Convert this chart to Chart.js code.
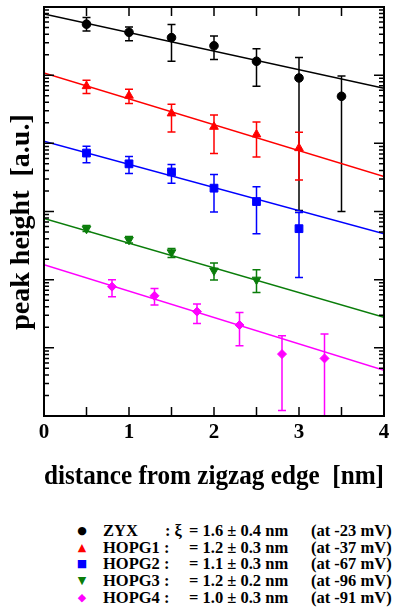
<!DOCTYPE html>
<html>
<head>
<meta charset="utf-8">
<script src="https://cdn.jsdelivr.net/npm/chart.js@4.4.0/dist/chart.umd.min.js"></script>
<style>
  html, body { margin: 0; padding: 0; background: #fff; }
  #wrap { position: relative; width: 394px; height: 609px; overflow: hidden; }
  #chart { position: absolute; left: 0; top: 0; }
  .leg { position: absolute; font: bold 16.5px "Liberation Serif", serif; color: #000; white-space: pre; line-height: 17px; }
  .mark { position: absolute; font: 11px "DejaVu Sans", sans-serif; line-height: 17px; width: 14px; text-align: center; }
</style>
</head>
<body>
<div id="wrap">
  <canvas id="chart" width="394" height="500"></canvas>
  <div id="legend"></div>
</div>
<script>
// ================= DATA =================
const zyxX  = [0.5, 1, 1.5, 2, 2.5, 3, 3.5];
const zyxY  = [5.6e5, 4.25e5, 3.55e5, 2.7e5, 1.6e5, 9.1e4, 4.9e4];
const zyxLo = [4.45e5, 3.2e5, 1.6e5, 1.7e5, 6.9e4, 1.03e3, 1.0e3];
const zyxHi = [7.0e5, 5.1e5, 5.55e5, 3.75e5, 2.45e5, 1.82e5, 9.7e4];

const hopg1X  = [0.5, 1, 1.5, 2, 2.5, 3];
const hopg1Y  = [6.9e4, 5.0e4, 2.75e4, 1.75e4, 1.35e4, 8.5e3];
const hopg1Lo = [5.4e4, 3.85e4, 1.47e4, 7.1e3, 6.3e3, 2.9e3];
const hopg1Hi = [8.4e4, 6.2e4, 3.75e4, 2.6e4, 2.05e4, 1.45e4];

const hopg2X  = [0.5, 1, 1.5, 2, 2.5, 3];
const hopg2Y  = [7.2e3, 5.0e3, 3.8e3, 2.2e3, 1.4e3, 560];
const hopg2Lo = [5.2e3, 3.6e3, 2.6e3, 980, 470, 108];
const hopg2Hi = [9.1e3, 6.4e3, 4.9e3, 3.5e3, 2.3e3, 970];

const hopg3X  = [0.5, 1, 1.5, 2, 2.5];
const hopg3Y  = [557, 384, 252, 136, 100];
const hopg3Lo = [508, 344, 211, 99, 65];
const hopg3Hi = [622, 429, 286, 176, 140];

const hopg4X  = [0.8, 1.3, 1.8, 2.3, 2.8, 3.3];
const hopg4Y  = [79, 58, 34, 21.6, 8.1, 7.0];
const hopg4Lo = [56, 42.5, 22.8, 10.7, 1.2, 0.5];
const hopg4Hi = [100, 74.5, 44, 33, 15, 15.9];

// fitted lines, value at x = 0 and x = 4
const fitX = [0, 4];
const zyxFit   = [7.9e5, 6.4e4];
const hopg1Fit = [1.08e5, 3.27e3];
const hopg2Fit = [1.07e4, 470];
const hopg3Fit = [790, 28];
const hopg4Fit = [166, 4.7];

// legend text
const legendNames = ['ZYX', 'HOPG1 :', 'HOPG2 :', 'HOPG3 :', 'HOPG4 :'];
const legendXi    = ['= 1.6 \u00b1 0.4 nm', '= 1.2 \u00b1 0.3 nm', '= 1.1 \u00b1 0.3 nm', '= 1.2 \u00b1 0.2 nm', '= 1.0 \u00b1 0.3 nm'];
const legendBias  = ['(at -23 mV)', '(at -37 mV)', '(at -67 mV)', '(at -96 mV)', '(at -91 mV)'];
const legendMarks = ['\u25cf', '\u25b2', '\u25a0', '\u25bc', '\u25c6'];

const colors = ['#000000', '#ff0000', '#0000ff', '#0a7d0a', '#ff00ff'];
const FONT = 'Liberation Serif';

// ================= HELPERS =================
const pts = (xs, ys) => xs.map((x, i) => ({ x: x, y: ys[i] }));

function series(xs, ys, lo, hi, color, style, radius, rotation) {
  return {
    type: 'scatter', data: pts(xs, ys), errLo: lo, errHi: hi,
    borderColor: color, backgroundColor: color, pointStyle: style,
    pointRadius: radius, pointBorderWidth: 1, pointRotation: rotation || 0,
    showLine: false, order: 1
  };
}

function fit(ys, color) {
  return {
    type: 'line', data: pts(fitX, ys), borderColor: color, borderWidth: 1.5,
    pointRadius: 0, fill: false, order: 2
  };
}

// ================= PLUGINS =================
const errorBars = {
  id: 'errorBars',
  beforeDatasetsDraw(chart) {
    const { ctx, chartArea, scales: { x, y } } = chart;
    ctx.save();
    ctx.beginPath();
    ctx.rect(chartArea.left, chartArea.top, chartArea.right - chartArea.left, chartArea.bottom - chartArea.top);
    ctx.clip();
    chart.data.datasets.forEach(ds => {
      if (!ds.errLo) return;
      ctx.strokeStyle = ds.borderColor;
      ctx.lineWidth = 1.5;
      ds.data.forEach((p, i) => {
        const px = x.getPixelForValue(p.x);
        const top = y.getPixelForValue(ds.errHi[i]);
        const bot = y.getPixelForValue(ds.errLo[i]);
        ctx.beginPath();
        ctx.moveTo(px, top); ctx.lineTo(px, bot);
        ctx.moveTo(px - 4, top); ctx.lineTo(px + 4, top);
        ctx.moveTo(px - 4, bot); ctx.lineTo(px + 4, bot);
        ctx.stroke();
      });
    });
    ctx.restore();
  }
};

const frame = {
  id: 'frame',
  afterDraw(chart) {
    const { ctx, chartArea: a, scales: { x, y } } = chart;
    ctx.save();
    ctx.strokeStyle = '#000';
    ctx.lineWidth = 1.5;
    ctx.beginPath();
    // x ticks every 0.5, top and bottom, pointing inward
    for (let v = 0.5; v < 4; v += 0.5) {
      const px = x.getPixelForValue(v);
      ctx.moveTo(px, a.bottom); ctx.lineTo(px, a.bottom - 9);
      ctx.moveTo(px, a.top); ctx.lineTo(px, a.top + 9);
    }
    // log ticks on both sides
    for (let e = 0; e < 6; e++) {
      for (let m = 1; m < 10; m++) {
        const py = y.getPixelForValue(m * Math.pow(10, e));
        const len = m === 1 ? 10 : 5;
        ctx.moveTo(a.left, py); ctx.lineTo(a.left + len, py);
        ctx.moveTo(a.right, py); ctx.lineTo(a.right - len, py);
      }
    }
    ctx.stroke();
    ctx.lineWidth = 2;
    ctx.strokeRect(a.left, a.top, a.right - a.left, a.bottom - a.top);
    ctx.restore();
  }
};

// ================= CHART =================
new Chart(document.getElementById('chart'), {
  data: {
    datasets: [
      series(zyxX, zyxY, zyxLo, zyxHi, colors[0], 'circle', 4.3),
      series(hopg1X, hopg1Y, hopg1Lo, hopg1Hi, colors[1], 'triangle', 5),
      series(hopg2X, hopg2Y, hopg2Lo, hopg2Hi, colors[2], 'rect', 5.5),
      series(hopg3X, hopg3Y, hopg3Lo, hopg3Hi, colors[3], 'triangle', 5, 180),
      series(hopg4X, hopg4Y, hopg4Lo, hopg4Hi, colors[4], 'rectRot', 4.5),
      fit(zyxFit, colors[0]),
      fit(hopg1Fit, colors[1]),
      fit(hopg2Fit, colors[2]),
      fit(hopg3Fit, colors[3]),
      fit(hopg4Fit, colors[4])
    ]
  },
  options: {
    responsive: false,
    animation: false,
    layout: { padding: { top: 7, right: 10, left: 0, bottom: 0 } },
    plugins: { legend: { display: false }, tooltip: { enabled: false } },
    scales: {
      x: {
        type: 'linear', min: 0, max: 4,
        grid: { display: false, drawTicks: false },
        border: { display: false },
        ticks: { stepSize: 1, maxRotation: 0, color: '#000', padding: 4, font: { family: FONT, weight: 'bold', size: 21 } },
        title: {
          display: true, text: 'distance from zigzag edge  [nm]', color: '#000',
          font: { family: FONT, weight: 'bold', size: 28 }, padding: { top: 10, bottom: 6 }
        },
        afterFit: s => { s.height = 84; s.paddingLeft = 0; s.paddingRight = 0; }
      },
      y: {
        type: 'logarithmic', min: 1, max: 1e6,
        grid: { display: false, drawTicks: false },
        border: { display: false },
        ticks: { display: false },
        title: {
          display: true, text: 'peak height  [a.u.]   ', color: '#000',
          font: { family: FONT, weight: 'bold', size: 28 }, padding: { top: 5, bottom: 5 }
        },
        afterFit: s => { s.width = 44; s.paddingTop = 0; s.paddingBottom = 0; }
      }
    }
  },
  plugins: [errorBars, frame]
});

// ================= LEGEND =================
const legend = document.getElementById('legend');
const rowY = [530, 547, 563, 580, 597];
legendNames.forEach((name, i) => {
  const top = rowY[i] - 8.5;
  const add = (cls, left, text, color) => {
    const el = document.createElement('div');
    el.className = cls;
    el.style.left = left + 'px';
    el.style.top = top + 'px';
    if (color) el.style.color = color;
    el.textContent = text;
    legend.appendChild(el);
  };
  add('mark', 75, legendMarks[i], colors[i]);
  add('leg', 103, name);
  if (i === 0) add('leg', 165, ': \u03be');
  add('leg', 189, legendXi[i]);
  add('leg', 311, legendBias[i]);
});
</script>
</body>
</html>
